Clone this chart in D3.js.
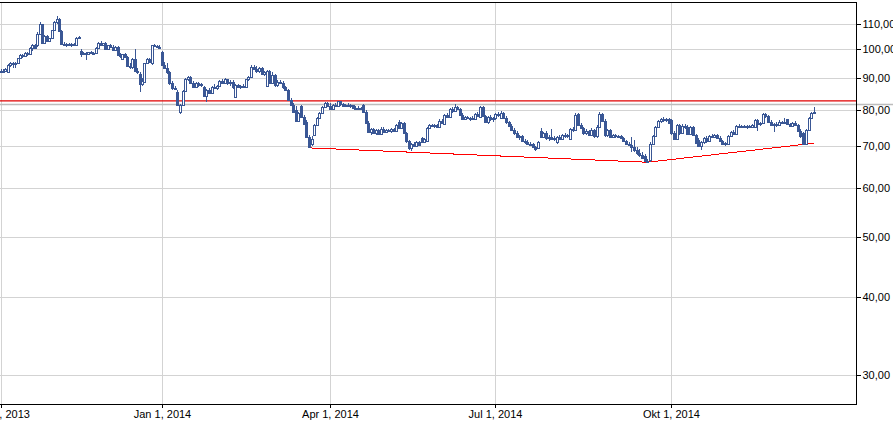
<!DOCTYPE html>
<html><head><meta charset="utf-8">
<script src="https://cdn.jsdelivr.net/npm/d3@7"></script>
<style>
html,body{margin:0;padding:0;background:#fff;}
svg{display:block;}
text{font-family:"Liberation Sans",Arial,sans-serif;font-size:11px;fill:#000;}
</style></head><body>
<svg id="chart" width="893" height="422"></svg>
<script>
// Daily candles [open, high, low, close], one array per quarter (trading days)
const q4_2013 = [
[92.3,93.0,91.8,92.5],[92.5,93.2,92.0,92.2],[92.2,93.4,91.9,93.0],[92.1,94.8,92.0,94.5],[94.5,95.5,93.8,95.0],
[95.0,95.5,93.5,94.7],[94.7,95.4,93.4,95.1],[95.2,97.0,95.0,96.8],[96.8,98.2,96.4,98.0],[98.0,98.5,97.0,97.6],
[97.6,98.9,97.4,98.6],[98.6,99.0,97.8,98.3],[98.3,101.0,98.0,100.6],[100.6,101.9,99.5,101.5],[101.5,102.0,100.0,100.4],
[101.5,106.5,101.0,106.0],[106.0,110.5,105.5,109.8],[109.8,110.0,102.0,102.5],[102.5,105.5,102.0,105.3],[105.3,105.6,103.0,103.3],
[103.3,104.5,103.0,104.2],[104.2,107.6,104.0,107.3],[107.3,111.2,107.0,110.8],[110.8,113.0,109.8,111.8],[111.8,112.5,106.5,107.0],
[107.0,107.5,101.8,102.2],[102.2,102.9,101.3,101.6],[101.6,102.5,101.0,102.0],[102.0,102.6,101.2,101.5],[101.5,102.4,101.0,102.1],
[102.1,102.6,101.3,101.7],[101.8,104.8,101.5,104.5],[104.5,105.3,104.0,104.8],[99.5,100.2,97.2,98.5],[98.5,99.0,98.0,98.7],
[98.7,99.2,96.3,98.4],[98.4,99.0,98.0,98.9],[98.9,99.3,98.2,98.6],[98.6,99.0,98.1,98.8],[98.8,101.0,98.5,100.6],
[100.6,102.8,100.3,102.5],[102.5,103.0,101.5,101.8],[101.8,102.6,101.3,102.3],[102.3,102.7,99.8,100.2],[100.2,101.8,100.0,101.5],
[101.5,101.9,100.4,100.8],[100.8,101.5,99.5,99.8],[99.8,101.2,99.6,100.9],[100.9,101.2,97.6,98.0],[98.0,98.6,97.0,97.5],
[96.5,98.5,96.2,98.2],[98.2,98.6,96.8,97.1],[97.1,97.5,93.9,94.2],[94.2,95.0,93.0,93.6],[93.6,96.8,93.2,96.5],
[96.5,100.0,92.0,92.4],[92.4,93.5,91.5,92.0],[91.5,92.0,85.5,88.0],[88.0,90.0,87.5,89.0],[88.8,95.3,88.5,95.0],
[95.0,97.0,94.8,96.6],[96.6,97.0,95.0,95.5],[95.0,101.8,94.5,101.5],[101.5,102.0,100.8,101.2],[101.2,101.8,100.5,101.0],
[101.0,101.5,100.3,100.8]
];
const q1_2014 = [
[99.0,99.5,94.2,94.5],[94.5,95.5,93.0,93.5],[93.5,95.2,91.5,92.0],[92.0,92.5,87.8,88.2],[88.2,88.9,86.2,86.8],
[86.8,87.5,86.0,86.5],[85.5,86.0,81.0,81.3],[79.3,81.8,78.8,81.5],[81.5,86.0,81.2,85.8],[85.8,90.0,85.5,89.6],
[89.6,90.8,89.0,90.2],[90.2,90.5,88.0,88.4],[88.4,89.0,86.7,87.0],[87.0,88.6,86.8,88.3],[88.3,88.8,87.2,87.6],
[87.6,88.5,87.0,88.1],[87.0,87.5,84.0,84.3],[84.3,86.5,82.4,86.0],[86.0,86.6,84.8,85.2],[85.2,87.5,85.0,87.2],
[87.2,88.0,86.3,86.6],[86.6,87.8,86.2,87.5],[87.5,89.2,87.2,88.9],[88.9,89.6,88.2,88.5],[88.5,90.0,88.0,89.5],
[89.5,89.8,87.8,88.2],[88.2,89.3,87.5,88.8],[88.8,89.2,86.5,87.0],[84.0,88.0,83.6,87.6],[87.6,88.0,86.8,87.2],
[87.2,87.8,86.5,87.5],[87.5,88.0,86.8,87.0],[87.0,89.8,86.8,89.5],[89.5,90.6,89.0,90.2],[90.2,94.3,90.0,93.9],
[93.9,94.5,92.8,93.2],[93.2,94.0,91.8,92.2],[92.2,93.6,91.8,93.3],[93.3,93.6,91.0,91.5],[91.5,92.5,90.8,92.0],
[87.5,92.8,87.0,92.4],[92.4,92.8,88.0,88.5],[88.5,92.0,88.0,91.0],[91.0,91.5,87.2,87.6],[87.6,89.2,87.0,88.8],
[88.8,89.3,88.0,88.4],[88.4,89.0,86.5,86.9],[86.9,87.5,85.8,86.2],[86.2,86.5,82.6,83.0],[83.0,83.5,81.0,81.3],
[81.3,82.0,79.0,79.4],[79.8,81.0,76.4,76.8],[76.8,79.5,76.5,79.0],[81.0,81.5,77.5,78.0],[78.0,78.5,75.5,75.9],
[76.5,77.0,72.0,72.4],[72.4,73.0,69.5,69.8],[70.5,72.5,70.0,71.8],[72.8,76.0,72.5,75.6],[75.6,77.8,75.3,77.5],
[77.5,79.5,77.2,79.2],[79.2,81.2,78.8,80.9],[80.9,82.3,80.5,82.0],[82.0,82.4,80.8,81.2]
];
const q2_2014 = [
[81.2,82.0,79.8,80.3],[80.3,81.8,80.0,81.5],[81.5,81.9,80.8,81.0],[81.0,82.8,80.7,82.5],[82.5,82.8,81.2,81.6],
[81.6,82.0,80.9,81.2],[81.2,81.8,80.8,81.5],[81.5,81.9,80.7,81.0],[81.0,81.6,80.5,81.3],[81.3,81.5,80.2,80.5],
[80.5,81.0,80.0,80.6],[80.6,81.0,80.0,80.3],[80.3,80.9,79.9,80.6],[81.5,81.8,79.2,79.5],[79.5,79.8,76.0,76.3],
[76.3,76.8,73.3,73.6],[73.6,74.8,73.0,74.5],[74.5,74.9,73.2,73.5],[73.5,74.6,73.0,74.2],[74.2,74.5,72.8,73.2],
[73.2,75.0,73.0,74.6],[74.6,75.0,73.4,73.8],[73.8,74.6,73.5,74.3],[74.3,74.6,73.6,73.9],[73.9,74.8,73.5,74.5],
[74.5,74.8,73.8,74.0],[74.0,76.0,73.8,75.7],[76.6,77.0,74.5,74.8],[74.8,76.5,74.5,76.2],[76.2,76.5,73.2,73.5],
[73.5,73.8,70.8,71.2],[71.2,71.6,69.0,69.4],[69.4,70.8,68.8,70.5],[70.5,71.0,69.6,70.0],[70.0,71.2,69.8,70.9],
[70.9,71.3,70.0,70.3],[72.0,72.4,70.8,71.0],[71.0,72.0,70.8,71.8],[71.2,75.0,70.9,74.7],[74.7,75.8,74.5,75.5],
[75.5,76.0,75.0,75.3],[75.3,75.9,74.8,75.6],[75.6,76.0,75.0,75.2],[75.2,77.2,74.9,76.9],[76.9,77.3,75.8,76.2],
[75.8,78.7,75.5,78.4],[78.4,79.0,77.5,78.0],[78.0,80.5,77.8,80.2],[80.2,80.8,79.2,79.6],[79.6,81.7,79.3,80.8],
[80.8,81.2,79.8,80.2],[80.2,80.5,78.2,78.5],[78.5,79.0,77.0,77.3],[77.3,78.2,77.0,77.9],[77.9,78.3,77.2,77.5],
[77.5,78.0,76.8,77.7],[77.7,78.1,77.0,77.3],[77.3,79.0,77.0,78.7],[78.7,79.3,78.0,78.3],[78.0,81.2,77.8,80.8],
[80.8,81.0,78.0,78.3],[78.3,78.6,76.2,76.5],[76.5,78.2,76.0,77.9],[77.9,78.5,76.8,77.2],[77.2,78.0,76.5,77.6]
];
const q3_2014 = [
[77.6,79.2,77.0,78.8],[78.8,79.5,78.0,78.4],[77.5,79.6,77.2,79.2],[79.2,79.5,77.3,77.6],[77.6,78.2,76.0,76.4],
[76.4,76.8,75.0,75.3],[75.3,75.9,74.0,74.3],[74.3,74.9,73.0,73.3],[73.3,74.0,72.0,72.3],[72.3,73.0,71.6,72.7],
[72.7,73.0,71.0,71.3],[71.3,71.8,70.5,71.0],[71.0,71.5,70.2,70.6],[70.6,71.0,70.0,70.4],[70.4,70.8,69.5,69.8],
[69.8,70.0,68.8,69.2],[69.4,71.3,69.2,71.0],[74.0,74.8,72.0,72.3],[72.3,73.8,72.0,73.5],[73.5,74.0,71.6,72.0],
[72.0,72.8,71.4,72.4],[72.4,74.5,71.6,71.9],[71.9,72.6,71.2,72.2],[71.0,72.6,70.5,72.4],[72.4,72.8,71.5,71.8],
[71.8,73.2,71.6,72.9],[72.9,73.3,72.2,72.6],[72.6,73.2,72.2,72.9],[71.8,74.8,71.5,74.5],[74.5,75.2,73.8,74.2],
[74.2,79.0,73.9,78.6],[78.8,79.1,75.4,75.7],[75.7,76.2,74.5,74.8],[74.8,75.0,73.0,73.3],[73.3,74.4,72.8,74.0],
[74.0,74.3,72.5,72.8],[72.8,74.8,72.5,74.3],[74.3,74.6,72.2,72.5],[72.5,75.5,72.2,75.2],[75.2,79.3,75.0,78.9],
[78.9,79.2,76.5,76.9],[76.9,77.2,72.4,72.8],[72.8,74.6,72.3,74.2],[74.2,74.6,72.0,72.4],[72.4,73.2,72.0,72.9],
[72.9,73.2,72.2,72.5],[72.5,73.0,72.0,72.6],[72.6,72.9,71.9,72.1],[72.1,72.4,70.9,71.2],[71.2,71.6,70.2,70.5],
[70.5,71.0,69.9,70.3],[70.3,72.3,68.5,69.7],[69.7,71.5,68.5,69.0],[69.0,69.8,67.6,68.2],[68.2,69.3,67.2,67.8],
[67.8,68.5,66.6,67.0],[67.5,68.0,66.0,66.3],[66.3,66.8,65.8,66.1],[66.4,71.0,66.0,70.6],[70.6,73.0,70.2,72.7],
[72.7,75.3,72.4,75.0],[75.0,77.0,74.7,76.7],[76.7,77.7,76.2,77.4],[77.4,77.8,76.6,77.0],[77.0,77.5,76.5,77.2],
[77.2,77.6,76.0,76.3]
];
const q4_2014 = [
[77.0,77.4,73.0,73.3],[73.3,74.0,71.5,71.9],[71.9,76.0,71.5,75.7],[75.7,76.0,73.0,73.5],[73.5,75.8,73.2,75.4],
[75.4,75.8,74.6,75.0],[75.0,75.6,72.8,73.2],[73.2,75.4,72.9,75.0],[75.0,75.3,72.5,72.8],[72.8,73.2,70.4,70.8],
[71.5,72.0,69.6,70.0],[70.0,71.4,69.0,71.0],[71.0,72.4,70.6,72.0],[72.0,72.5,70.8,71.2],[71.2,73.0,71.0,72.7],
[72.7,73.1,72.0,72.3],[72.3,73.2,72.0,72.9],[72.9,73.2,71.9,72.2],[72.2,72.5,71.0,71.3],[71.3,71.6,70.2,70.5],
[70.5,71.0,70.0,70.7],[70.5,73.0,70.2,72.7],[72.7,74.0,72.4,73.6],[73.6,74.2,72.8,73.2],[73.2,75.6,73.0,75.3],
[75.3,75.8,74.8,75.2],[75.2,75.7,74.7,75.4],[75.4,75.7,74.8,75.1],[75.1,75.6,74.6,75.3],[75.3,75.7,74.9,75.2],
[75.2,75.8,74.8,75.5],[75.0,77.3,74.7,77.0],[77.0,77.4,74.0,75.9],[75.9,76.6,75.4,76.2],[76.2,79.0,76.0,78.8],
[78.8,79.2,77.6,78.2],[78.2,78.5,76.3,76.6],[76.6,77.0,75.4,75.7],[75.7,76.3,73.8,76.0],[76.0,76.5,75.0,75.5],
[75.5,77.0,75.3,76.4],[76.4,76.8,75.9,76.2],[76.2,77.5,75.8,76.6],[77.2,77.4,75.6,75.9],[75.9,76.2,75.0,75.4],
[75.4,76.6,75.2,76.3],[76.3,76.7,75.3,75.6],[75.6,76.0,73.8,74.1],[74.1,74.5,72.2,72.5],[73.5,73.8,70.3,70.6],
[70.6,74.6,70.3,74.3],[74.3,77.8,74.0,77.5],[77.5,79.3,77.2,79.0],[79.0,80.8,78.8,79.5]
];

const firstTradingDay = "2013-10-01";
const tickDates  = ["2013-10-01", "2014-01-01", "2014-04-01", "2014-07-01", "2014-10-01"];
const tickLabels = ["Okt 1, 2013", "Jan 1, 2014", "Apr 1, 2014", "Jul 1, 2014", "Okt 1, 2014"];
const yTicks = [30, 40, 50, 60, 70, 80, 90, 100, 110];
const trendDates  = ["2014-03-20", "2014-09-18", "2014-12-15"];
const trendValues = [69.5, 65.9, 70.7];
const levelRed  = 82.7;
const levelGray = 81.6;

// ---- build rows
const candles = [].concat(q4_2013, q1_2014, q2_2014, q3_2014, q4_2014);
const fmt = d3.utcFormat("%Y-%m-%d");
const parse = d3.utcParse("%Y-%m-%d");
const dates = [];
let cur = parse(firstTradingDay);
while (dates.length < candles.length + 80) {
  const wd = cur.getUTCDay();
  if (wd !== 0 && wd !== 6) dates.push(fmt(cur));
  cur = d3.utcDay.offset(cur, 1);
}
const idxOf = s => dates.indexOf(s);
const rows = candles.map((c, i) => ({i, date: dates[i], o: c[0], h: c[1], l: c[2], c: c[3]}));

const W = 893, H = 422;
const plot = {left: -1, top: 2, right: 856, bottom: 404};
const svg = d3.select("#chart");

const tickIdx = tickDates.map(idxOf);
const endIdx = tickIdx[tickIdx.length - 1] + 69;
const x = d3.scaleLinear()
  .domain([...tickIdx, endIdx])
  .range([0.5, 161.5, 330, 495.3, 671.3, 857]);
const y = d3.scaleLog().domain([26.95, 119.2]).range([plot.bottom, plot.top]);

const color = "#3a5795";

// gridlines
const grid = svg.append("g").attr("shape-rendering", "crispEdges");
grid.selectAll("line.h").data(yTicks).join("line")
  .attr("x1", 0).attr("x2", plot.right)
  .attr("y1", d => Math.round(y(d)) + 0.5).attr("y2", d => Math.round(y(d)) + 0.5)
  .attr("stroke", "#d3d3d3").attr("stroke-width", 1);
grid.selectAll("line.v").data(tickIdx).join("line")
  .attr("x1", d => Math.round(x(d)) + 0.5).attr("x2", d => Math.round(x(d)) + 0.5)
  .attr("y1", plot.top).attr("y2", plot.bottom)
  .attr("stroke", "#d3d3d3").attr("stroke-width", 1);

// gray level line (extends past axis)
svg.append("line")
  .attr("x1", 0).attr("x2", W)
  .attr("y1", y(levelGray)).attr("y2", y(levelGray))
  .attr("stroke", "#bdbdbd").attr("stroke-width", 1.6);

// clip
svg.append("clipPath").attr("id", "clip").append("rect")
  .attr("x", 0).attr("y", plot.top).attr("width", plot.right).attr("height", plot.bottom - plot.top);
const g = svg.append("g").attr("clip-path", "url(#clip)");

// red level line
g.append("line")
  .attr("x1", 0).attr("x2", plot.right)
  .attr("y1", y(levelRed)).attr("y2", y(levelRed))
  .attr("stroke", "#e00000").attr("stroke-width", 1.4);

// trend line
const trend = trendDates.map((d, k) => ({i: idxOf(d), v: trendValues[k]}));
g.append("path")
  .datum(trend)
  .attr("d", d3.line().x(d => x(d.i)).y(d => y(d.v)))
  .attr("fill", "none").attr("stroke", "#ff0000").attr("stroke-width", 1)
  .attr("shape-rendering", "crispEdges");

// candles
const cg = g.append("g").attr("shape-rendering", "crispEdges");
const cand = cg.selectAll("g.c").data(rows).join("g");
cand.append("line")
  .attr("x1", d => Math.round(x(d.i)) + 0.5).attr("x2", d => Math.round(x(d.i)) + 0.5)
  .attr("y1", d => Math.round(y(d.h))).attr("y2", d => Math.round(y(d.l)))
  .attr("stroke", color).attr("stroke-width", 1);
cand.append("rect")
  .attr("x", d => Math.round(x(d.i)) - 0.5)
  .attr("y", d => Math.round(y(Math.max(d.o, d.c))) + 0.5)
  .attr("width", 2)
  .attr("height", d => Math.max(1, Math.round(y(Math.min(d.o, d.c))) - Math.round(y(Math.max(d.o, d.c)))))
  .attr("fill", d => d.c >= d.o ? "#ffffff" : color)
  .attr("stroke", color).attr("stroke-width", 1);

// border
svg.append("path")
  .attr("d", `M0,${plot.top + 0.5}H${plot.right + 0.5}V${plot.bottom + 0.5}H0`)
  .attr("fill", "none").attr("stroke", "#000").attr("stroke-width", 1)
  .attr("shape-rendering", "crispEdges");

// axes
const xAxis = d3.axisBottom(x).tickValues(tickIdx)
  .tickFormat((d, k) => tickLabels[k]).tickSize(3).tickPadding(3);
const xa = svg.append("g").attr("transform", `translate(0,${plot.bottom + 0.5})`).call(xAxis);
xa.select(".domain").remove();
xa.selectAll("line").attr("stroke", "#000").attr("shape-rendering", "crispEdges")
  .attr("transform", function() { return null; });
xa.selectAll(".tick").attr("transform", d => `translate(${Math.round(x(d)) + 0.5},0)`);
xa.selectAll("text").style("font-size", "11px").style("font-family", '"Liberation Sans", Arial, sans-serif');

const yAxis = d3.axisRight(y).tickValues(yTicks)
  .tickFormat(d => d3.format(".2f")(d).replace(".", ",")).tickSize(4).tickPadding(2);
const ya = svg.append("g").attr("transform", `translate(${plot.right + 0.5},0)`).call(yAxis);
ya.select(".domain").remove();
ya.selectAll(".tick").attr("transform", d => `translate(0,${Math.round(y(d)) + 0.5})`);
ya.selectAll("line").attr("stroke", "#000").attr("shape-rendering", "crispEdges");
ya.selectAll("text").style("font-size", "11px").style("font-family", '"Liberation Sans", Arial, sans-serif');
</script>
</body></html>
